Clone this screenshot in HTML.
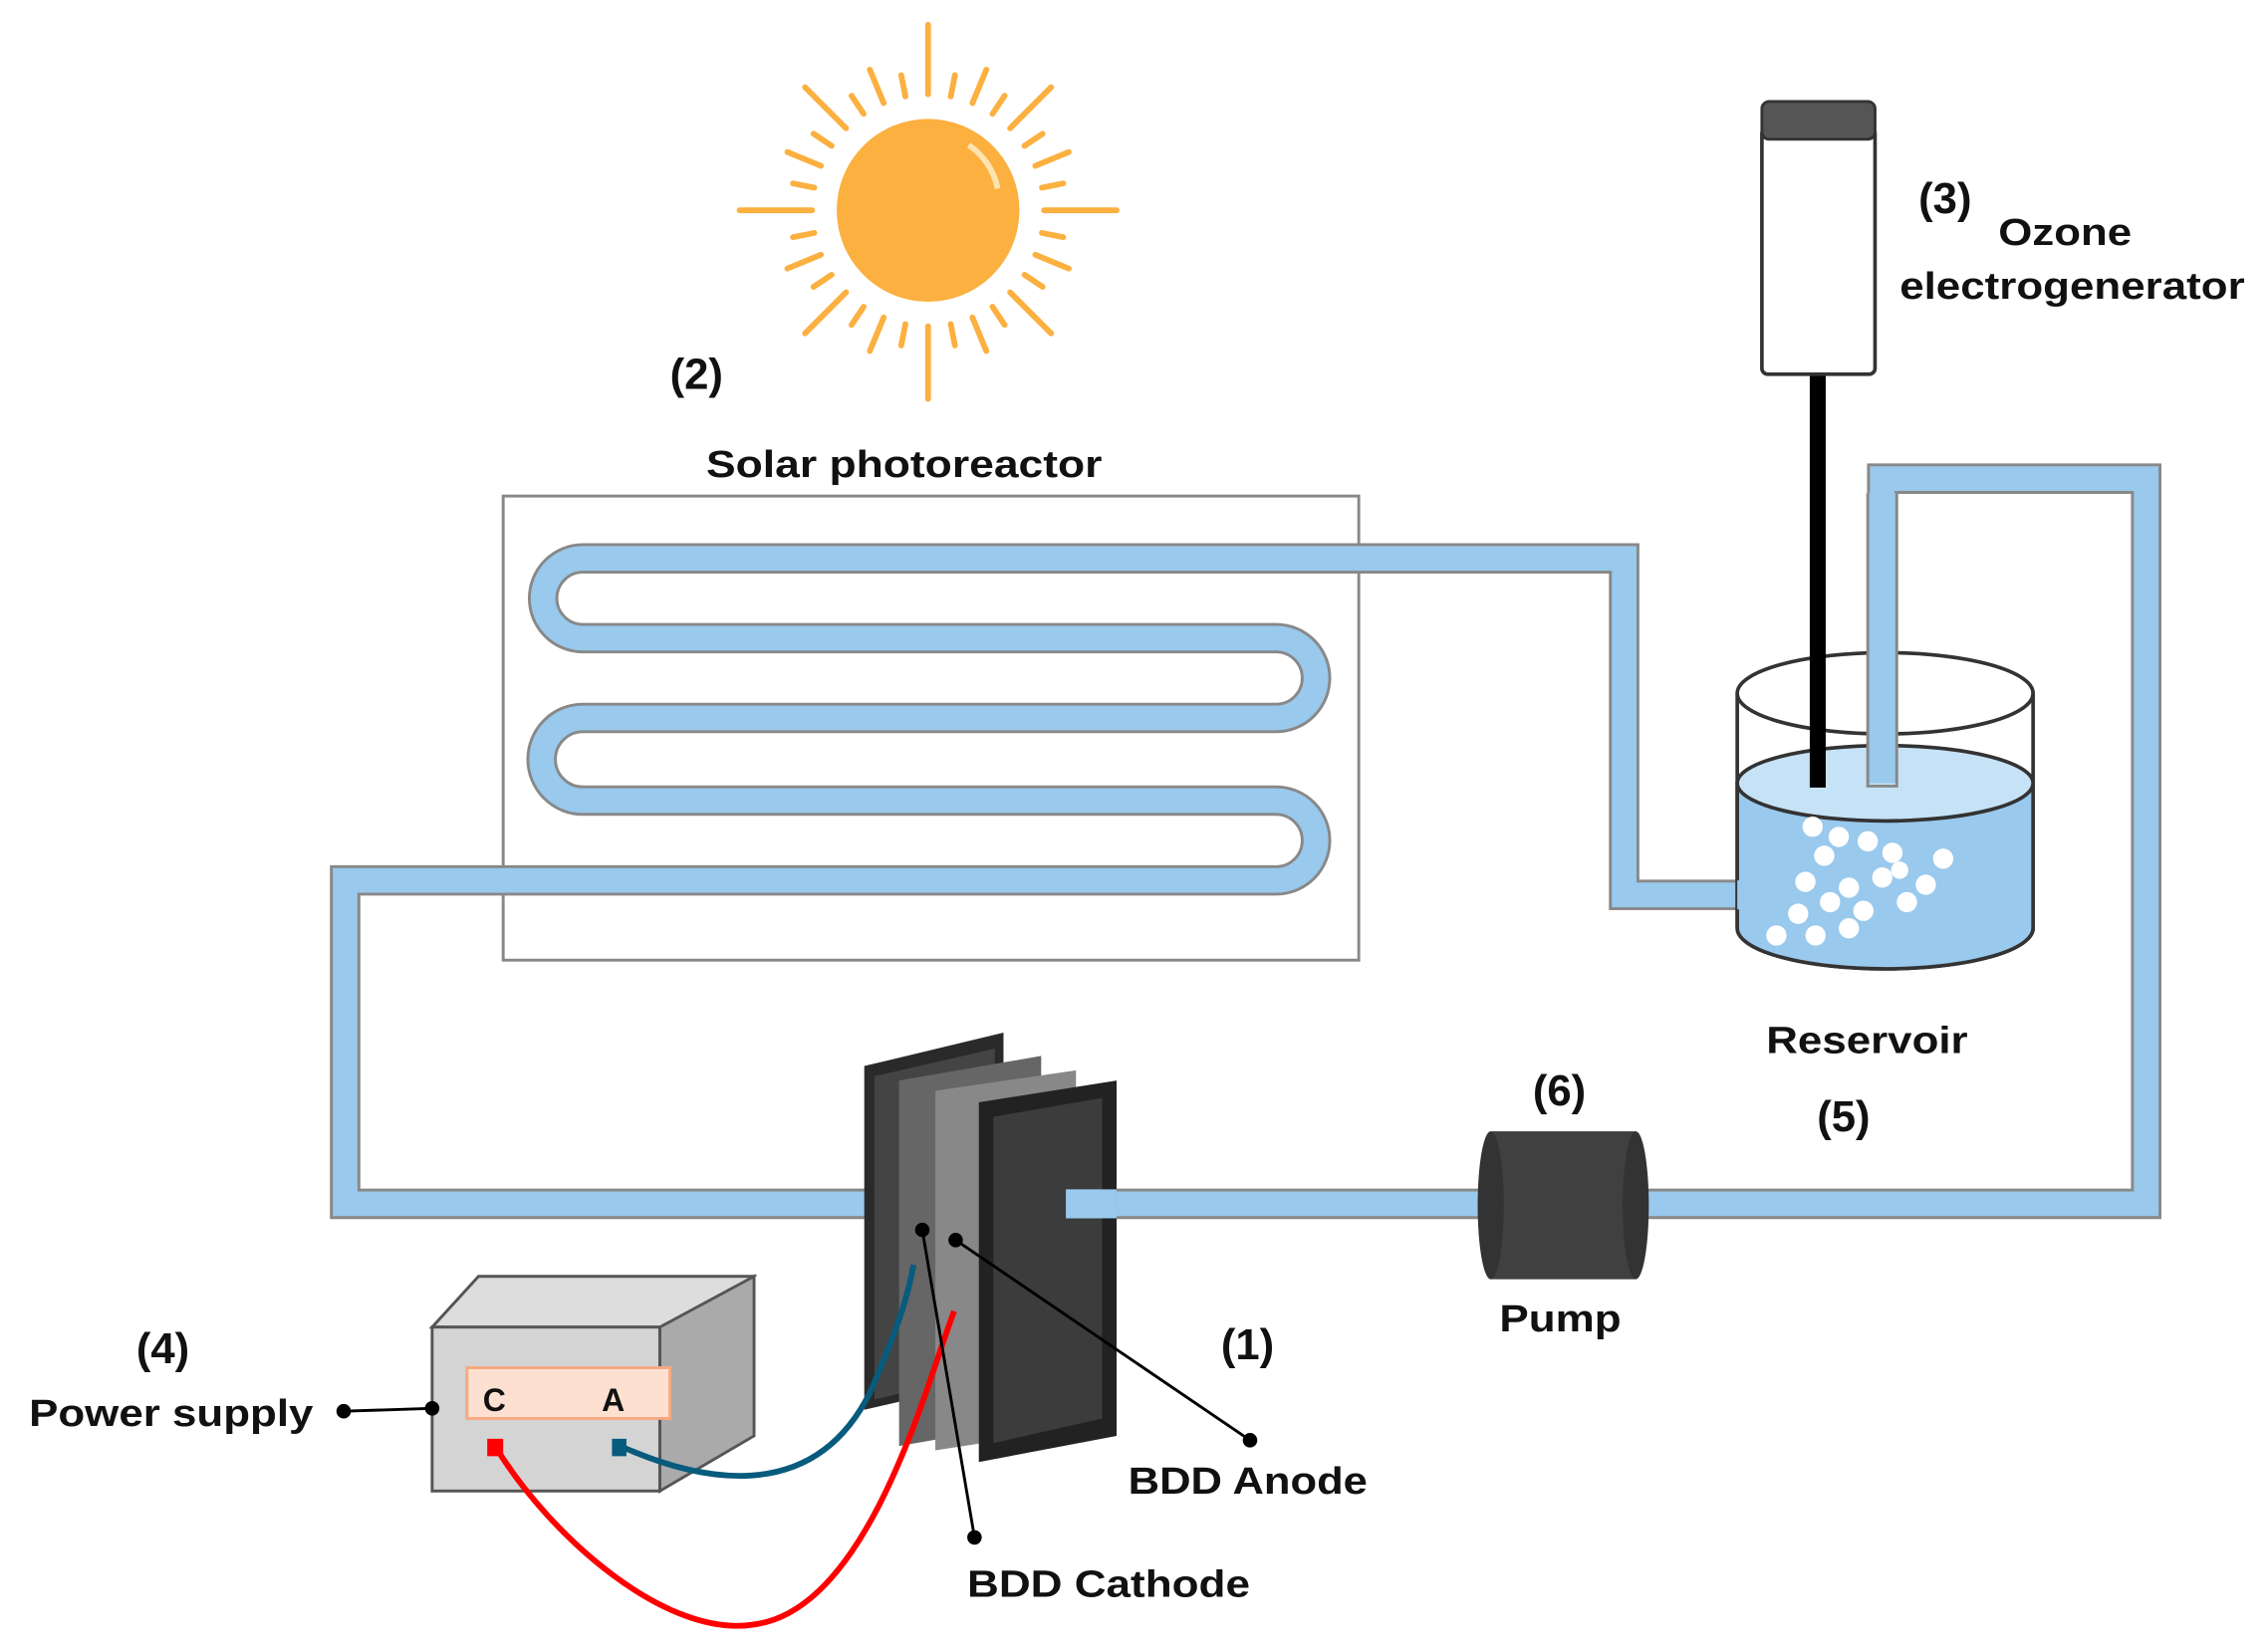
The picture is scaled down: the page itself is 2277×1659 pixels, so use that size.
<!DOCTYPE html>
<html><head><style>html,body{margin:0;padding:0;background:#fff}svg{display:block}</style></head><body>
<svg width="2277" height="1659" viewBox="0 0 1564 1139" preserveAspectRatio="none" xmlns="http://www.w3.org/2000/svg" font-family="Liberation Sans, Arial, sans-serif" font-weight="bold">
<rect width="1564" height="1139" fill="#fff"/>
<g stroke="#fbb040" stroke-width="4" stroke-linecap="round">
<g transform="translate(640,145)">
<line x1="0" y1="-80" x2="0" y2="-128"/><line x1="0" y1="80" x2="0" y2="130"/>
<line x1="-80" y1="0" x2="-130" y2="0"/><line x1="80" y1="0" x2="130" y2="0"/>
<g transform="rotate(22.5)"><line x1="0" y1="-80" x2="0" y2="-105"/><line x1="0" y1="80" x2="0" y2="105"/><line x1="-80" y1="0" x2="-105" y2="0"/><line x1="80" y1="0" x2="105" y2="0"/></g>
<g transform="rotate(45)"><line x1="0" y1="-80" x2="0" y2="-120"/><line x1="0" y1="80" x2="0" y2="120"/><line x1="-80" y1="0" x2="-120" y2="0"/><line x1="80" y1="0" x2="120" y2="0"/></g>
<g transform="rotate(67.5)"><line x1="0" y1="-80" x2="0" y2="-105"/><line x1="0" y1="80" x2="0" y2="105"/><line x1="-80" y1="0" x2="-105" y2="0"/><line x1="80" y1="0" x2="105" y2="0"/></g>
<g transform="rotate(11.25)"><line x1="0" y1="-80" x2="0" y2="-95"/><line x1="0" y1="80" x2="0" y2="95"/><line x1="-80" y1="0" x2="-95" y2="0"/><line x1="80" y1="0" x2="95" y2="0"/></g>
<g transform="rotate(33.75)"><line x1="0" y1="-80" x2="0" y2="-95"/><line x1="0" y1="80" x2="0" y2="95"/><line x1="-80" y1="0" x2="-95" y2="0"/><line x1="80" y1="0" x2="95" y2="0"/></g>
<g transform="rotate(56.25)"><line x1="0" y1="-80" x2="0" y2="-95"/><line x1="0" y1="80" x2="0" y2="95"/><line x1="-80" y1="0" x2="-95" y2="0"/><line x1="80" y1="0" x2="95" y2="0"/></g>
<g transform="rotate(78.75)"><line x1="0" y1="-80" x2="0" y2="-95"/><line x1="0" y1="80" x2="0" y2="95"/><line x1="-80" y1="0" x2="-95" y2="0"/><line x1="80" y1="0" x2="95" y2="0"/></g>
</g></g>
<circle cx="640" cy="145" r="63" fill="#fbb040"/>
<path d="M668 100 A48 48 0 0 1 688 130" stroke="#fde3b0" stroke-width="4" fill="none"/>
<g font-size="30" fill="#111">
<text x="462" y="268">(2)</text>
<text x="1323" y="147">(3)</text>
<text x="94" y="940">(4)</text>
<text x="842" y="937">(1)</text>
<text x="1057" y="762">(6)</text>
<text x="1253" y="780">(5)</text>
</g>
<g font-size="26" fill="#111" lengthAdjust="spacingAndGlyphs">
<text x="487" y="329" textLength="273" lengthAdjust="spacingAndGlyphs">Solar photoreactor</text>
<text x="1378" y="169" textLength="92" lengthAdjust="spacingAndGlyphs">Ozone</text>
<text x="1310" y="206" textLength="238" lengthAdjust="spacingAndGlyphs">electrogenerator</text>
<text x="1218" y="726" textLength="139" lengthAdjust="spacingAndGlyphs">Reservoir</text>
<text x="1034" y="918" textLength="84" lengthAdjust="spacingAndGlyphs">Pump</text>
<text x="20" y="983" textLength="196" lengthAdjust="spacingAndGlyphs">Power supply</text>
<text x="778" y="1030" textLength="165" lengthAdjust="spacingAndGlyphs">BDD Anode</text>
<text x="667" y="1101" textLength="195" lengthAdjust="spacingAndGlyphs">BDD Cathode</text>
</g>
<rect x="347" y="342" width="590" height="320" fill="none" stroke="#888" stroke-width="2"/>
<g fill="none" stroke-linejoin="miter">
<g stroke="#888" stroke-width="21">
<path d="M1205 617 H1120 V385 H402 A27.5 27.5 0 0 0 402 440 H880 A27.5 27.5 0 0 1 880 495 H402 A28.5 28.5 0 0 0 402 552 H880 A27.5 27.5 0 0 1 880 607 H238 V830 H600"/>
<path d="M735 830 H1480 V330 H1298 V540"/>
</g>
<g stroke="#99c9ec" stroke-width="17">
<path d="M1205 617 H1120 V385 H402 A27.5 27.5 0 0 0 402 440 H880 A27.5 27.5 0 0 1 880 495 H402 A28.5 28.5 0 0 0 402 552 H880 A27.5 27.5 0 0 1 880 607 H238 V830 H600"/>
<path d="M735 830 H1480 V330 H1298 V538"/>
</g>
</g>
<path d="M1198 478 V640 A102 28 0 0 0 1402 640 V478" fill="none" stroke="#333" stroke-width="2.5"/>
<path d="M1198 540 V640 A102 28 0 0 0 1402 640 V540 Z" fill="#99c9ec" stroke="#333" stroke-width="2.5"/>
<ellipse cx="1300" cy="540" rx="102" ry="26" fill="#c6e2f6" stroke="#333" stroke-width="2.5"/>
<ellipse cx="1300" cy="478" rx="102" ry="28" fill="none" stroke="#333" stroke-width="2.5"/>
<rect x="1288" y="340" width="20" height="200" fill="#99c9ec"/>
<path d="M1288 340 V542 H1308 V340" fill="none" stroke="#888" stroke-width="2"/>
<rect x="1198" y="607" width="12" height="20" fill="#99c9ec"/>
<g fill="#fff">
<circle cx="1250" cy="570" r="7"/><circle cx="1268" cy="577" r="7"/><circle cx="1258" cy="590" r="7"/>
<circle cx="1288" cy="580" r="7"/><circle cx="1305" cy="588" r="7"/><circle cx="1298" cy="605" r="7"/>
<circle cx="1245" cy="608" r="7"/><circle cx="1262" cy="622" r="7"/><circle cx="1275" cy="612" r="7"/>
<circle cx="1240" cy="630" r="7"/><circle cx="1252" cy="645" r="7"/><circle cx="1285" cy="628" r="7"/>
<circle cx="1328" cy="610" r="7"/><circle cx="1315" cy="622" r="7"/><circle cx="1275" cy="640" r="7"/>
<circle cx="1340" cy="592" r="7"/><circle cx="1225" cy="645" r="7"/><circle cx="1310" cy="600" r="6"/>
</g>
<rect x="1248" y="258" width="11" height="285" fill="#000"/>
<rect x="1215" y="88" width="78" height="170" rx="4" fill="#fff" stroke="#333" stroke-width="2.5"/>
<rect x="1215" y="70" width="78" height="26" rx="5" fill="#555" stroke="#333" stroke-width="2"/>
<polygon points="596,735 692,712 692,950 596,972" fill="#2a2a2a"/>
<polygon points="603,742 686,723 686,945 603,965" fill="#444"/>
<polygon points="620,745 718,728 718,980 620,997" fill="#666"/>
<polygon points="645,752 742,738 742,985 645,1000" fill="#888"/>
<polygon points="675,760 770,745 770,990 675,1008" fill="#222"/>
<polygon points="685,770 760,757 760,978 685,995" fill="#3c3c3c"/>
<rect x="735" y="820" width="35" height="20" fill="#99c9ec"/>
<rect x="1028" y="780" width="100" height="102" fill="#404040"/>
<ellipse cx="1028" cy="831" rx="9" ry="51" fill="#333"/>
<ellipse cx="1128" cy="831" rx="9" ry="51" fill="#333"/>
<polygon points="298,915 330,880 520,880 490,915" fill="#ddd" stroke="#555" stroke-width="2"/>
<polygon points="455,915 520,880 520,990 455,1028" fill="#aaa" stroke="#555" stroke-width="2"/>
<rect x="298" y="915" width="157" height="113" fill="#d4d4d4" stroke="#555" stroke-width="2"/>
<rect x="322" y="943" width="140" height="35" fill="#fde0d0" stroke="#f7a880" stroke-width="2"/>
<text x="333" y="973" font-size="22" fill="#111">C</text>
<text x="415" y="973" font-size="22" fill="#111">A</text>
<path d="M430 998 C480 1020 560 1040 600 960 C615 925 625 900 630 872" fill="none" stroke="#075b7d" stroke-width="4"/>
<rect x="422" y="992" width="10" height="12" fill="#075b7d"/>
<path d="M342 998 C380 1060 460 1130 520 1120 C600 1110 640 950 658 904" fill="none" stroke="#f00" stroke-width="4"/>
<rect x="336" y="992" width="11" height="12" fill="#f00"/>
<g stroke="#000" stroke-width="2">
<line x1="237" y1="973" x2="298" y2="971"/>
<line x1="636" y1="848" x2="672" y2="1060"/>
<line x1="659" y1="855" x2="862" y2="993"/>
</g>
<g fill="#000">
<circle cx="237" cy="973" r="5"/><circle cx="298" cy="971" r="5"/>
<circle cx="636" cy="848" r="5"/><circle cx="672" cy="1060" r="5"/>
<circle cx="659" cy="855" r="5"/><circle cx="862" cy="993" r="5"/>
</g>
</svg>
</body></html>
